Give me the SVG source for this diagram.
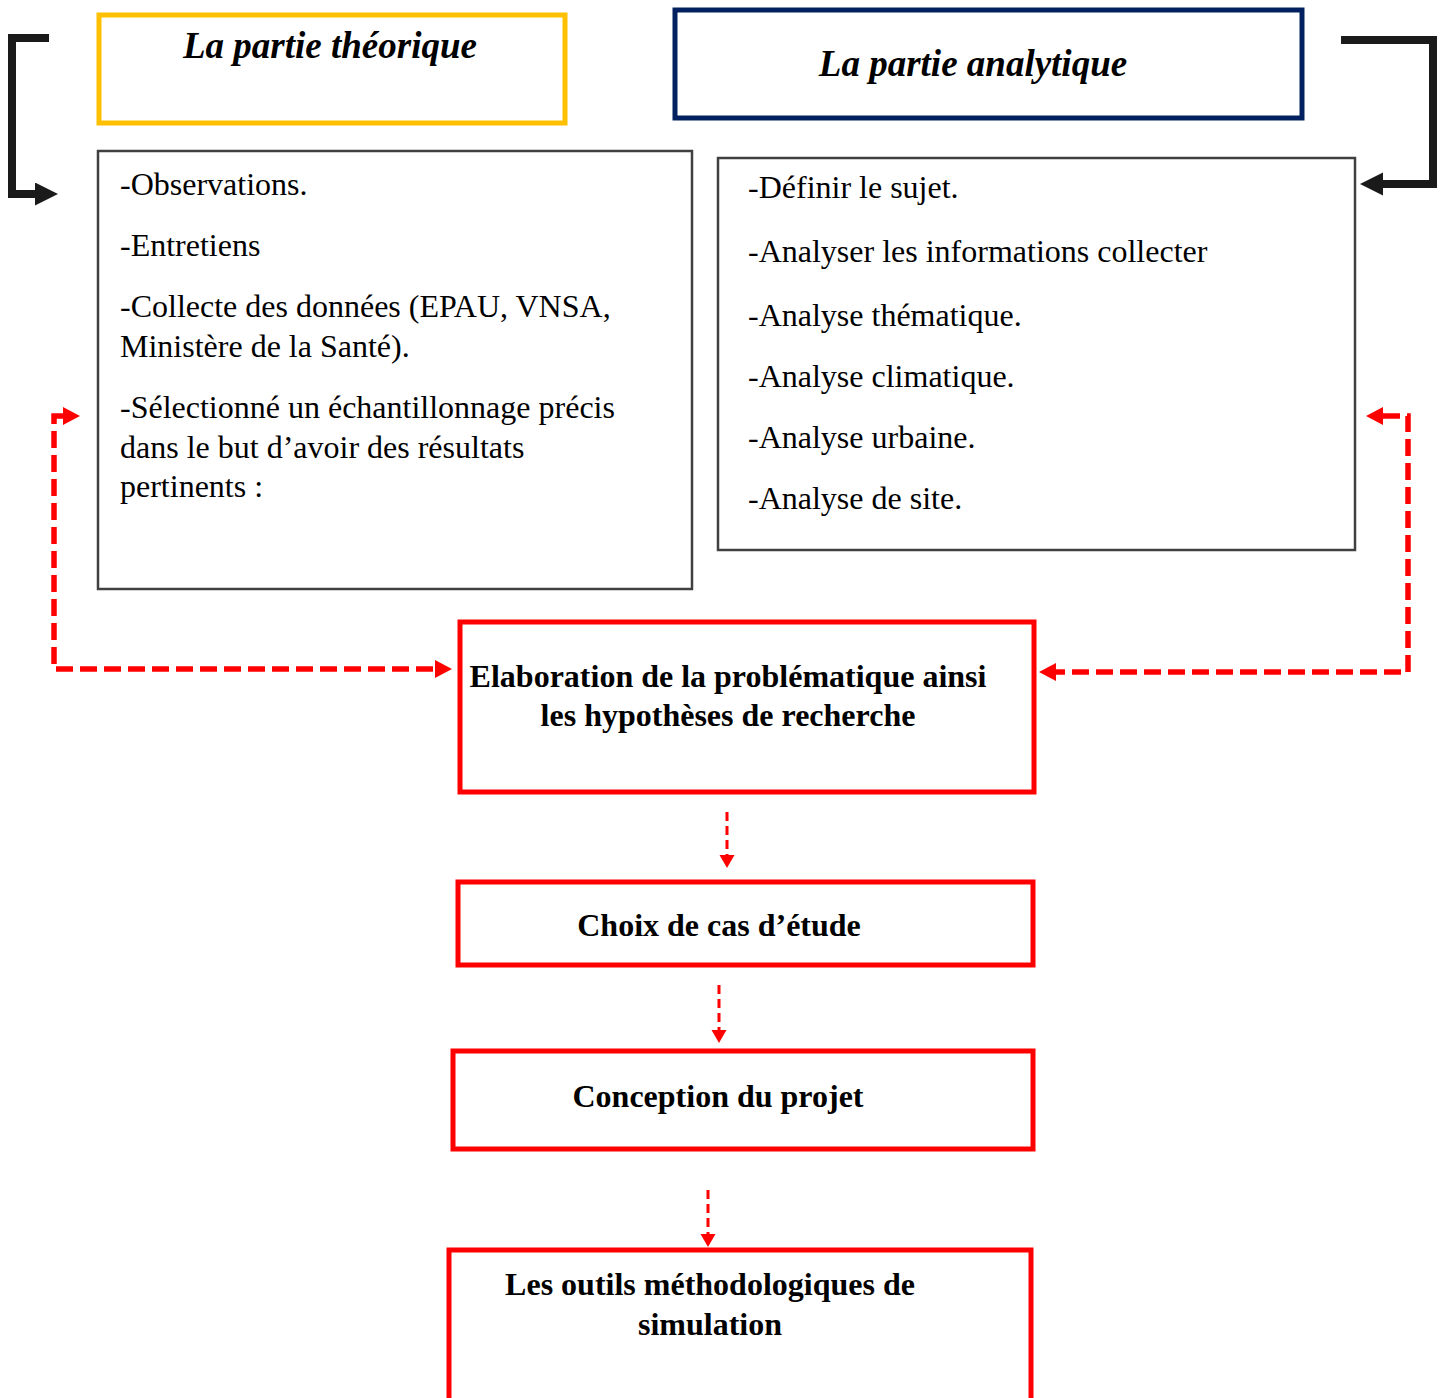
<svg xmlns="http://www.w3.org/2000/svg" width="1445" height="1398" viewBox="0 0 1445 1398">
<style>
.title{font-family:"Liberation Serif",serif;font-weight:bold;font-style:italic;font-size:37px;fill:#000;text-anchor:middle}
.body{font-family:"Liberation Serif",serif;font-size:32px;fill:#000}
.bold{font-family:"Liberation Serif",serif;font-weight:bold;font-size:32px;fill:#000;text-anchor:middle}
.gray{fill:#fff;stroke:#404040;stroke-width:2.5}
.red{fill:#fff;stroke:#ff0000;stroke-width:5}
.blk{fill:none;stroke:#1a1a1a;stroke-width:8}
.rdash{fill:none;stroke:#ff0000;stroke-width:5.5;stroke-dasharray:17 7}
.rsmall{fill:none;stroke:#ff0000;stroke-width:3;stroke-dasharray:9 5}
</style>
<defs>
<marker id="ab" markerUnits="userSpaceOnUse" markerWidth="24" markerHeight="24" refX="0" refY="11.5" orient="auto"><path d="M0,0 L23,11.5 L0,23 Z" fill="#1a1a1a"/></marker>
<marker id="ar" markerUnits="userSpaceOnUse" markerWidth="18" markerHeight="19" refX="0" refY="9" orient="auto-start-reverse"><path d="M0,0 L17,9 L0,18 Z" fill="#ff0000"/></marker>
<marker id="as" markerUnits="userSpaceOnUse" markerWidth="14" markerHeight="16" refX="0" refY="7.5" orient="auto"><path d="M0,0 L13,7.5 L0,15 Z" fill="#ff0000"/></marker>
</defs>
<rect width="1445" height="1398" fill="#fff"/>
<g id="n-theorique">
<rect x="99" y="15" width="466" height="108" fill="#fff" stroke="#ffc000" stroke-width="5"/>
<text class="title" x="330" y="58">La partie théorique</text>
</g>
<g id="n-analytique">
<rect x="675" y="10" width="627" height="108" fill="#fff" stroke="#002060" stroke-width="5"/>
<text class="title" x="973" y="76">La partie analytique</text>
</g>
<g id="n-liste-theorique">
<rect class="gray" x="98" y="151" width="594" height="438"/>
<text class="body" x="120" y="195">-Observations.</text>
<text class="body" x="120" y="256">-Entretiens</text>
<text class="body" x="120" y="317">-Collecte des données (EPAU, VNSA,</text>
<text class="body" x="120" y="357">Ministère de la Santé).</text>
<text class="body" x="120" y="418">-Sélectionné un échantillonnage précis</text>
<text class="body" x="120" y="458">dans le but d’avoir des résultats</text>
<text class="body" x="120" y="497">pertinents :</text>
</g>
<g id="n-liste-analytique">
<rect class="gray" x="718" y="158" width="637" height="392"/>
<text class="body" x="748" y="198">-Définir le sujet.</text>
<text class="body" x="748" y="262">-Analyser les informations collecter</text>
<text class="body" x="748" y="326">-Analyse thématique.</text>
<text class="body" x="748" y="387">-Analyse climatique.</text>
<text class="body" x="748" y="448">-Analyse urbaine.</text>
<text class="body" x="748" y="509">-Analyse de site.</text>
</g>
<g id="n-problematique">
<rect class="red" x="460" y="622" width="574" height="170"/>
<text class="bold" x="728" y="687">Elaboration de la problématique ainsi</text>
<text class="bold" x="728" y="726">les hypothèses de recherche</text>
</g>
<g id="n-choix">
<rect class="red" x="458" y="882" width="575" height="83"/>
<text class="bold" x="719" y="936">Choix de cas d’étude</text>
</g>
<g id="n-conception">
<rect class="red" x="453" y="1051" width="580" height="98"/>
<text class="bold" x="718" y="1107">Conception du projet</text>
</g>
<g id="n-outils">
<rect class="red" x="449" y="1250" width="582" height="170"/>
<text class="bold" x="710" y="1295">Les outils méthodologiques de</text>
<text class="bold" x="710" y="1335">simulation</text>
</g>
<g id="connectors">
<path class="blk" d="M49,38 H12 V194 H35" marker-end="url(#ab)"/>
<path class="blk" d="M1341,40 H1433 V184 H1383" marker-end="url(#ab)"/>
<path class="rdash" d="M63,416 H54 V669 H435" marker-start="url(#ar)" marker-end="url(#ar)"/>
<path class="rdash" d="M1383,416 H1408 V672 H1056" marker-start="url(#ar)" marker-end="url(#ar)"/>
<path class="rsmall" d="M727,812 V855" marker-end="url(#as)"/>
<path class="rsmall" d="M719,985 V1030" marker-end="url(#as)"/>
<path class="rsmall" d="M708,1190 V1234" marker-end="url(#as)"/>
</g>
</svg>
